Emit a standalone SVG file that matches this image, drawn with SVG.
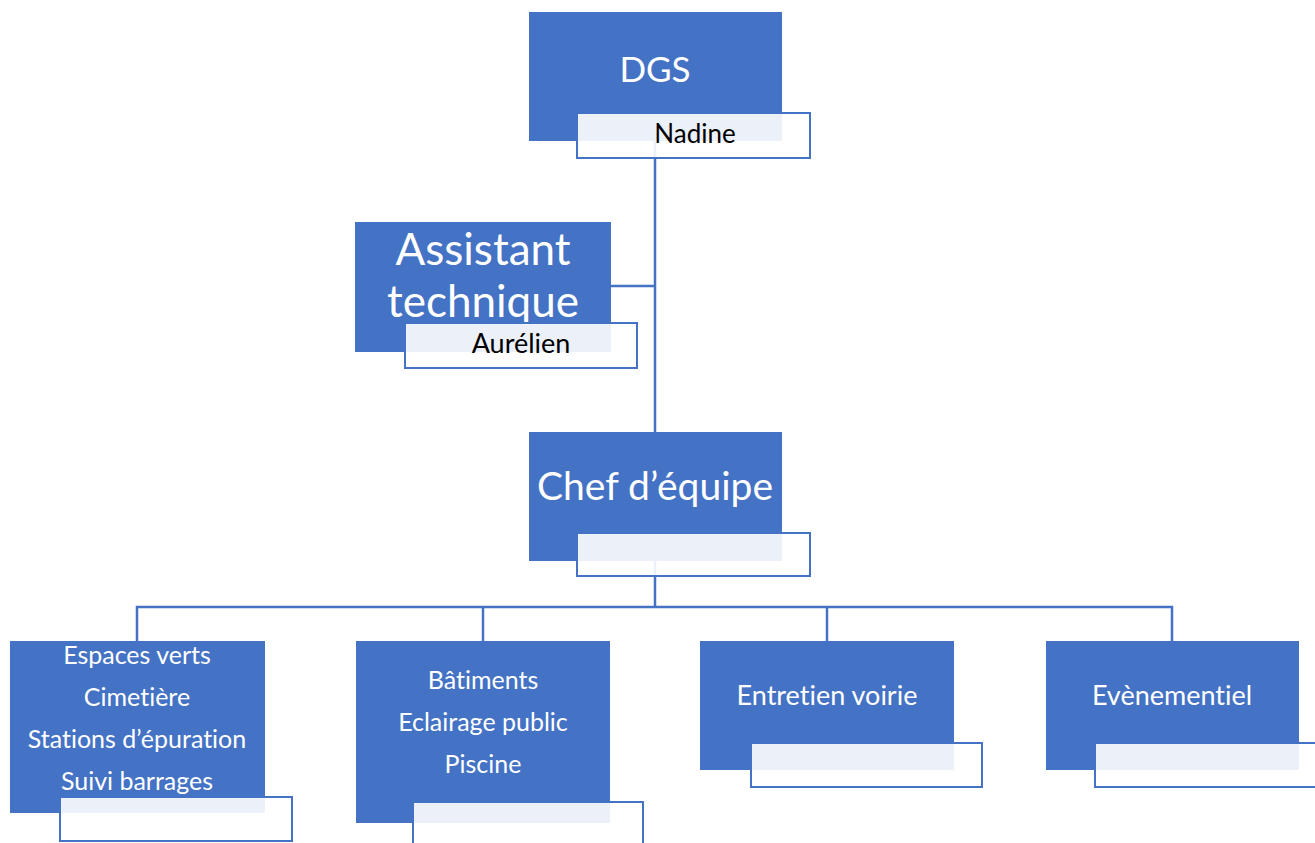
<svg xmlns="http://www.w3.org/2000/svg" width="1315" height="843" viewBox="0 0 1315 843">
<style>
.box{fill:#4472C4;}
.name{fill:#ffffff;fill-opacity:0.9;stroke:#4472C4;stroke-width:2;}
.conn{stroke:#4472C4;stroke-width:2.5;fill:none;}
.t{font-family:Lato,"Open Sans","Liberation Sans",sans-serif;fill:#ffffff;text-anchor:middle;font-variant-ligatures:none;}
.n{font-family:Lato,"Open Sans","Liberation Sans",sans-serif;fill:#000000;text-anchor:middle;font-variant-ligatures:none;}
.s{font-size:25px;}
.m{font-size:27px;}
</style>
<rect width="1315" height="843" fill="#ffffff"/>
<g id="connectors">
<path class="conn" d="M655,141 V432"/>
<path class="conn" d="M611,286 H655"/>
<path class="conn" d="M655,561 V607"/>
<path class="conn" d="M137,641 V607 H1172 V641"/>
<path class="conn" d="M483,607 V641"/>
<path class="conn" d="M827,607 V641"/>
</g>
<g id="dgs">
<rect class="box" x="529" y="12" width="253" height="129"/>
<text class="t" x="655" y="82" font-size="35">DGS</text>
<rect class="name" x="577" y="113" width="233" height="45"/>
<text class="n" x="695" y="143" font-size="26">Nadine</text>
</g>
<g id="assistant">
<rect class="box" x="355" y="222" width="256" height="130"/>
<text class="t" x="483" y="265" font-size="44">Assistant</text>
<text class="t" x="483" y="317" font-size="44">technique</text>
<rect class="name" x="405" y="323" width="232" height="45"/>
<text class="n" x="521" y="353" font-size="27">Aurélien</text>
</g>
<g id="chef">
<rect class="box" x="529" y="432" width="253" height="129"/>
<text class="t" x="655" y="500" font-size="39">Chef d’équipe</text>
<rect class="name" x="577" y="533" width="233" height="43"/>
</g>
<g id="espaces">
<rect class="box" x="10" y="641" width="255" height="172"/>
<text class="t s" x="137" y="664">Espaces verts</text>
<text class="t s" x="137" y="706">Cimetière</text>
<text class="t s" x="137" y="748">Stations d’épuration</text>
<text class="t s" x="137" y="790">Suivi barrages</text>
<rect class="name" x="60" y="797" width="232" height="44"/>
</g>
<g id="batiments">
<rect class="box" x="356" y="641" width="254" height="182"/>
<text class="t s" x="483" y="689">Bâtiments</text>
<text class="t s" x="483" y="731">Eclairage public</text>
<text class="t s" x="483" y="773">Piscine</text>
<rect class="name" x="413" y="802" width="230" height="50"/>
</g>
<g id="voirie">
<rect class="box" x="700" y="641" width="254" height="129"/>
<text class="t m" x="827" y="705">Entretien voirie</text>
<rect class="name" x="751" y="743" width="231" height="44"/>
</g>
<g id="evenementiel">
<rect class="box" x="1046" y="641" width="253" height="129"/>
<text class="t m" x="1172" y="705">Evènementiel</text>
<rect class="name" x="1095" y="743" width="232" height="44"/>
</g>
</svg>
